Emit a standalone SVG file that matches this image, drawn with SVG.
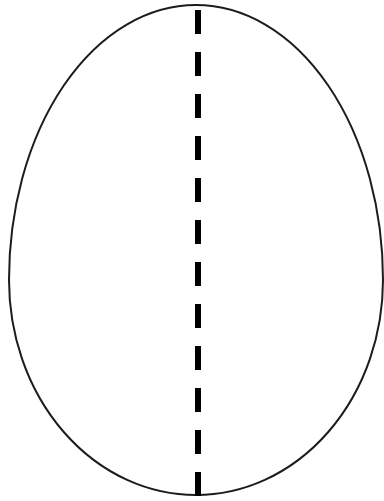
<svg xmlns="http://www.w3.org/2000/svg" width="384" height="501" viewBox="0 0 384 501">
  <style>
    .egg { fill: #ffffff; stroke: #1c1c1c; stroke-width: 2; }
    .axis { stroke: #000000; stroke-width: 6; stroke-dasharray: 24 18; fill: none; }
  </style>
  <rect x="0" y="0" width="384" height="501" fill="#ffffff"/>
  <g id="egg">
    <path class="egg" d="M 9 280 A 187 275 0 0 1 383 280 A 187 215 0 0 1 9 280 Z"/>
  </g>
  <g id="connectors">
    <line class="axis" x1="198" y1="10" x2="198" y2="496"/>
  </g>
</svg>
